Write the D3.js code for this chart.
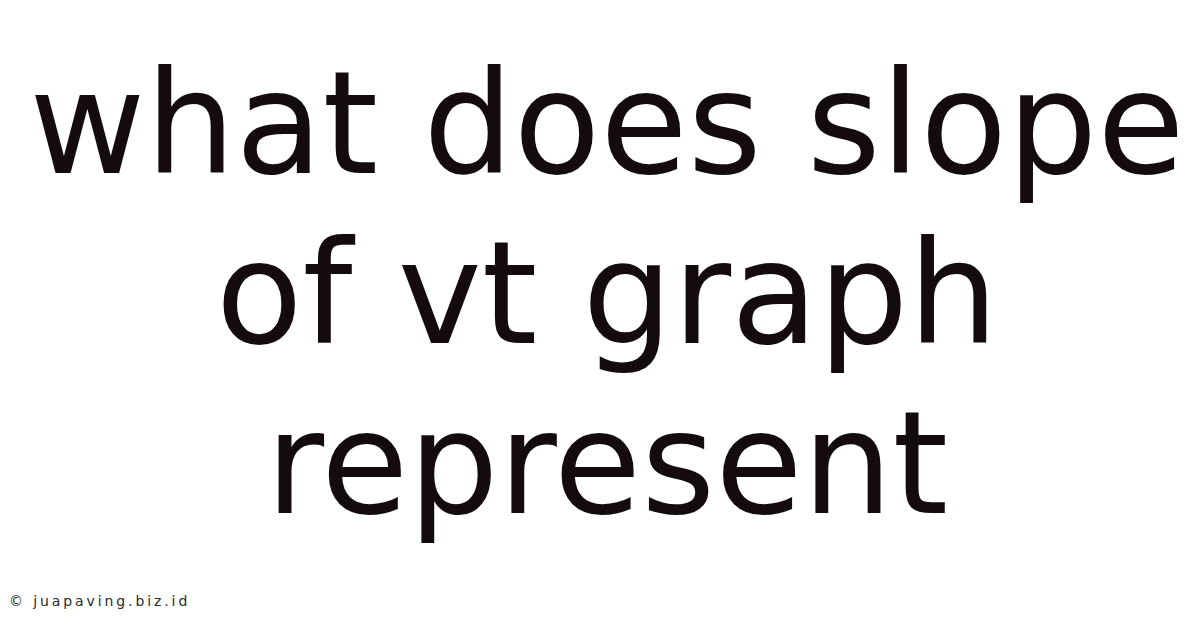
<!DOCTYPE html>
<html><head><meta charset="utf-8">
<script src="https://cdn.jsdelivr.net/npm/d3@7"></script>
<style>html,body{margin:0;padding:0;background:#fff;}svg{display:block;}</style>
</head><body>
<script>
const titleLines = ["what does slope", "of vt graph", "represent"];
const lineIndex = [0, 1, 2];
const watermark = "© juapaving.biz.id";

const W = 1200, H = 628;
const svg = d3.select("body").append("svg").attr("width", W).attr("height", H);
svg.append("rect").attr("width", W).attr("height", H).attr("fill", "#fff");

const y = d3.scaleLinear().domain([0, 2]).range([173, 513]);

svg.selectAll("text.title").data(titleLines).join("text")
  .attr("class", "title")
  .attr("x", 607)
  .attr("y", (d, i) => y(lineIndex[i]))
  .attr("text-anchor", "middle")
  .attr("font-family", "DejaVu Sans")
  .attr("font-size", 142)
  .attr("fill", "#140c0c")
  .text(d => d);

svg.append("text")
  .attr("x", 9).attr("y", 606)
  .attr("font-family", "DejaVu Sans")
  .attr("font-size", 14)
  .attr("letter-spacing", 2.9)
  .attr("fill", "#2a2a2a")
  .text(watermark);
</script>
</body></html>
